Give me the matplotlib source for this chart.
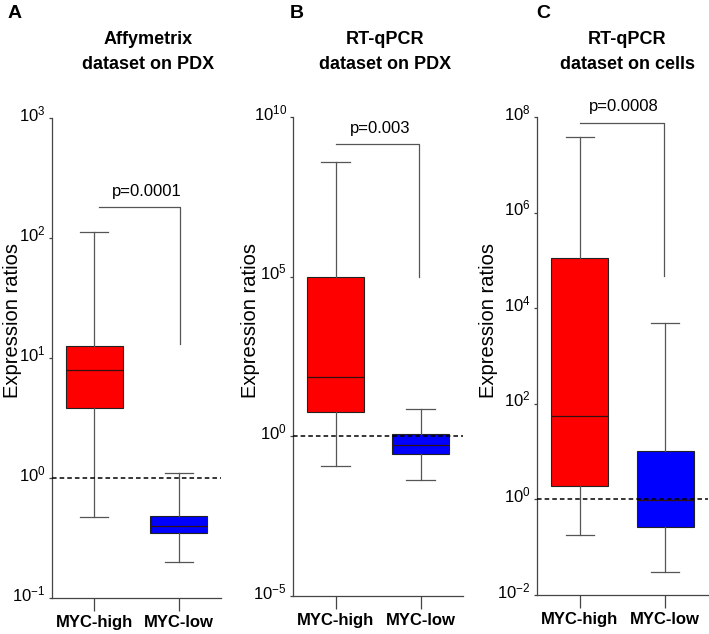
import numpy as np
import matplotlib
matplotlib.use("Agg")
import matplotlib.pyplot as plt
import matplotlib.transforms as mtransforms
from matplotlib.ticker import LogFormatterSciNotation

plt.rcParams['font.family'] = ['Liberation Sans', 'DejaVu Sans']
plt.rcParams['mathtext.fontset'] = 'custom'
plt.rcParams['mathtext.rm'] = 'Liberation Sans'
plt.rcParams['mathtext.it'] = 'Liberation Sans'
plt.rcParams['axes.unicode_minus'] = False

# data (whisker low, q1, median, q3, whisker high)
groups = ['MYC-high', 'MYC-low']
panel_letters = ['A', 'B', 'C']
titles = ['Affymetrix\ndataset on PDX', 'RT-qPCR\ndataset on PDX', 'RT-qPCR\ndataset on cells']
high_stats = [
    [0.47, 3.8, 7.9, 12.7, 112],
    [0.12, 5.6, 74, 1.0e5, 3.8e8],
    [0.176, 1.9, 56, 1.1e5, 3.8e7],
]
low_stats = [
    [0.20, 0.35, 0.40, 0.48, 1.1],
    [0.043, 0.27, 0.55, 1.15, 7.4],
    [0.031, 0.27, 0.97, 10.4, 4800],
]
p_values = ['p=0.0001', 'p=0.003', 'p=0.0008']
bracket_top = [180, 1.4e9, 7.6e7]
bracket_end = [13, 1.0e5, 4.7e4]
bracket_x0 = [1.06, 1.0, 1.0]
bracket_x1 = [2.02, 1.98, 1.98]
p_text_x = [1.62, 1.52, 1.52]
ylims = [(1e-1, 1e3), (1e-5, 1e10), (1e-2, 1e8)]
yticks = [[1e-1, 1e0, 1e1, 1e2, 1e3], [1e-5, 1e0, 1e5, 1e10], [1e-2, 1e0, 1e2, 1e4, 1e6, 1e8]]

W, H = 709, 634
fig = plt.figure(figsize=(W / 100, H / 100), dpi=100)

# axes boxes in pixels: left, right, top, bottom
ax_px = [(52, 221, 118, 598), (293, 463, 117, 596), (537, 708, 117, 595)]
title_x = [148, 385, 627]
letter_x = [8, 290, 536]
ylabel_x = [12, 250, 489]
colors = ['#ff0000', '#0000ff']
# tick label baseline sits a little below the tick
shift = mtransforms.ScaledTranslation(0, -3 / 100, fig.dpi_scale_trans)

for i in range(3):
    l, r, t, b = ax_px[i]
    ax = fig.add_axes([l / W, 1 - b / H, (r - l) / W, (b - t) / H])
    ax.set_yscale('log')
    stats = []
    for s, name in zip([high_stats[i], low_stats[i]], groups):
        stats.append(dict(whislo=s[0], q1=s[1], med=s[2], q3=s[3], whishi=s[4],
                          fliers=[], label=name))
    bp = ax.bxp(stats, positions=[1, 2], widths=0.67, patch_artist=True,
                showfliers=False,
                boxprops=dict(linewidth=0.8, edgecolor='#222222'),
                medianprops=dict(color='#331111', linewidth=0.9),
                whiskerprops=dict(color='#555555', linewidth=0.9),
                capprops=dict(color='#555555', linewidth=0.9),
                capwidths=0.33)
    for patch, c in zip(bp['boxes'], colors):
        patch.set_facecolor(c)

    ax.axhline(1, color='black', linestyle=(0, (3, 2)), linewidth=1.1, zorder=3)

    # significance bracket
    ax.plot([bracket_x0[i], bracket_x1[i], bracket_x1[i]],
            [bracket_top[i], bracket_top[i], bracket_end[i]],
            color='#555555', linewidth=0.9, clip_on=False)
    ax.annotate(p_values[i], xy=(p_text_x[i], bracket_top[i]), xytext=(0, 6),
                textcoords='offset points', ha='center', va='bottom',
                fontsize=12, annotation_clip=False)

    ax.set_xlim(0.5, 2.5)
    ax.set_ylim(*ylims[i])
    ax.set_yticks(yticks[i])
    ax.yaxis.set_major_formatter(LogFormatterSciNotation())
    ax.minorticks_off()
    ax.set_xticks([1, 2])
    ax.set_xticklabels(groups, fontsize=12, fontweight='bold')
    ax.tick_params(axis='x', length=9.5, width=0.9, color='#444444', pad=3)
    ax.tick_params(axis='y', length=2.5, width=0.9, color='#444444', labelsize=12, pad=2)
    for tick in ax.yaxis.get_major_ticks():
        tick.label1.set_verticalalignment('baseline')
        tick.label1.set_transform(tick.label1.get_transform() + shift)
    for sp in ['top', 'right']:
        ax.spines[sp].set_visible(False)
    for sp in ['left', 'bottom']:
        ax.spines[sp].set_color('#444444')
        ax.spines[sp].set_linewidth(0.9)

    ax.set_ylabel('Expression ratios', fontsize=14.5, va='center')
    ax.yaxis.set_label_coords((ylabel_x[i] - l) / (r - l), (b - 320) / (b - t))

    fig.text(title_x[i] / W, 1 - 52 / H, titles[i], ha='center', va='center',
             fontsize=13, fontweight='bold', linespacing=1.55)
    fig.text(letter_x[i] / W, 1 - 13 / H, panel_letters[i], ha='left', va='center',
             fontsize=14, fontweight='bold')

fig.savefig('out.png', dpi=100)
